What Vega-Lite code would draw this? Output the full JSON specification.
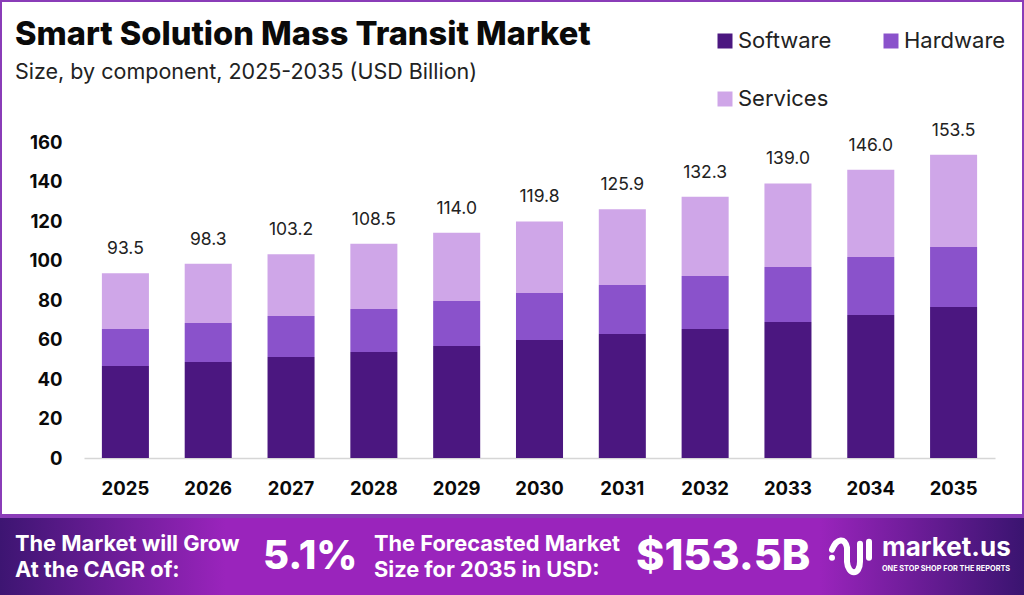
{
  "$schema": "https://vega.github.io/schema/vega-lite/v6.json",
  "padding": {"left": -2, "top": -2, "right": 0, "bottom": 0},
  "spacing": 0,
  "background": "white",
  "config": {
    "font": "Inter",
    "concat": {"spacing": 0}
  },
  "vconcat": [
    {
      "width": 1024,
      "height": 516,
      "view": {"fill": "white", "stroke": "#8a3cb8", "strokeWidth": 4},
      "title": {
        "text": "Smart Solution Mass Transit Market",
        "subtitle": "Size, by component, 2025-2035 (USD Billion)",
        "anchor": "start",
        "frame": "group",
        "dx": 15,
        "offset": -83,
        "font": "Inter",
        "fontSize": 32.6,
        "fontWeight": 800,
        "color": "#0a0a0a",
        "subtitleFont": "Inter",
        "subtitleFontSize": 21.5,
        "subtitleFontWeight": 400,
        "subtitleColor": "#222222",
        "subtitlePadding": 10
      },
      "layer": [
        {
          "data": {
            "values": [
              {"year": "2025", "component": "Software", "rank": 1, "value": 46.6},
              {"year": "2025", "component": "Hardware", "rank": 2, "value": 18.7},
              {"year": "2025", "component": "Services", "rank": 3, "value": 28.2},
              {"year": "2026", "component": "Software", "rank": 1, "value": 48.6},
              {"year": "2026", "component": "Hardware", "rank": 2, "value": 19.8},
              {"year": "2026", "component": "Services", "rank": 3, "value": 29.9},
              {"year": "2027", "component": "Software", "rank": 1, "value": 51.1},
              {"year": "2027", "component": "Hardware", "rank": 2, "value": 20.8},
              {"year": "2027", "component": "Services", "rank": 3, "value": 31.3},
              {"year": "2028", "component": "Software", "rank": 1, "value": 53.7},
              {"year": "2028", "component": "Hardware", "rank": 2, "value": 21.7},
              {"year": "2028", "component": "Services", "rank": 3, "value": 33.1},
              {"year": "2029", "component": "Software", "rank": 1, "value": 56.7},
              {"year": "2029", "component": "Hardware", "rank": 2, "value": 22.8},
              {"year": "2029", "component": "Services", "rank": 3, "value": 34.5},
              {"year": "2030", "component": "Software", "rank": 1, "value": 59.7},
              {"year": "2030", "component": "Hardware", "rank": 2, "value": 23.8},
              {"year": "2030", "component": "Services", "rank": 3, "value": 36.3},
              {"year": "2031", "component": "Software", "rank": 1, "value": 62.8},
              {"year": "2031", "component": "Hardware", "rank": 2, "value": 24.8},
              {"year": "2031", "component": "Services", "rank": 3, "value": 38.3},
              {"year": "2032", "component": "Software", "rank": 1, "value": 65.3},
              {"year": "2032", "component": "Hardware", "rank": 2, "value": 26.9},
              {"year": "2032", "component": "Services", "rank": 3, "value": 40.1},
              {"year": "2033", "component": "Software", "rank": 1, "value": 68.9},
              {"year": "2033", "component": "Hardware", "rank": 2, "value": 27.8},
              {"year": "2033", "component": "Services", "rank": 3, "value": 42.3},
              {"year": "2034", "component": "Software", "rank": 1, "value": 72.4},
              {"year": "2034", "component": "Hardware", "rank": 2, "value": 29.4},
              {"year": "2034", "component": "Services", "rank": 3, "value": 44.2},
              {"year": "2035", "component": "Software", "rank": 1, "value": 76.5},
              {"year": "2035", "component": "Hardware", "rank": 2, "value": 30.3},
              {"year": "2035", "component": "Services", "rank": 3, "value": 46.7}
            ]
          },
          "mark": {"type": "bar", "stroke": "#000000", "strokeOpacity": 0},
          "encoding": {
            "x": {
              "field": "year",
              "type": "ordinal",
              "title": null,
              "scale": {"range": [84, 995], "paddingInner": 0.432, "paddingOuter": 0.216},
              "axis": {
                "offset": -58,
                "labelAngle": 0,
                "labelFont": "Inter",
                "labelFontSize": 18.5,
                "labelFontWeight": 700,
                "labelColor": "#0a0a0a",
                "labelPadding": 21,
                "ticks": false,
                "domainColor": "#d6d6d6",
                "domainWidth": 1.5
              }
            },
            "y": {
              "field": "value",
              "type": "quantitative",
              "stack": "zero",
              "title": null,
              "scale": {"domain": [0, 160], "range": [458, 142]},
              "axis": {
                "offset": -62,
                "values": [0, 20, 40, 60, 80, 100, 120, 140, 160],
                "grid": false,
                "domain": false,
                "ticks": false,
                "labelPadding": 0,
                "labelFont": "Inter",
                "labelFontSize": 18.5,
                "labelFontWeight": 700,
                "labelColor": "#0a0a0a"
              }
            },
            "color": {
              "field": "component",
              "type": "nominal",
              "title": null,
              "scale": {
                "domain": ["Software", "Hardware", "Services"],
                "range": ["#4b1780", "#8a52cb", "#cfa6e8"]
              },
              "legend": {
                "orient": "none",
                "legendX": 714,
                "legendY": 30,
                "direction": "horizontal",
                "columns": 2,
                "columnPadding": 48,
                "rowPadding": 36,
                "symbolType": "square",
                "symbolSize": 225,
                "symbolStrokeWidth": 0,
                "labelFont": "Inter",
                "labelFontSize": 22,
                "labelColor": "#222222",
                "labelOffset": 2
              }
            },
            "order": {"field": "rank"}
          }
        },
        {
          "data": {
            "values": [
              {"year": "2025", "total": 93.5},
              {"year": "2026", "total": 98.3},
              {"year": "2027", "total": 103.2},
              {"year": "2028", "total": 108.5},
              {"year": "2029", "total": 114.0},
              {"year": "2030", "total": 119.8},
              {"year": "2031", "total": 125.9},
              {"year": "2032", "total": 132.3},
              {"year": "2033", "total": 139.0},
              {"year": "2034", "total": 146.0},
              {"year": "2035", "total": 153.5}
            ]
          },
          "mark": {
            "type": "text",
            "font": "Inter",
            "fontSize": 17.5,
            "fontWeight": 400,
            "color": "#222222",
            "baseline": "middle",
            "dy": -24
          },
          "encoding": {
            "x": {"field": "year", "type": "ordinal"},
            "y": {"field": "total", "type": "quantitative"},
            "text": {"field": "total", "type": "quantitative", "format": ".1f"}
          }
        }
      ]
    },
    {
      "width": 1024,
      "height": 79,
      "view": {
        "stroke": null,
        "fill": {
          "gradient": "linear",
          "x1": 0,
          "y1": 0,
          "x2": 1,
          "y2": 0,
          "stops": [
            {"offset": 0, "color": "#3d1572"},
            {"offset": 0.22, "color": "#9a24bc"},
            {"offset": 0.8, "color": "#9a24bc"},
            {"offset": 1, "color": "#3a1470"}
          ]
        }
      },
      "encoding": {
        "x": {
          "field": "column",
          "type": "quantitative",
          "axis": null,
          "scale": {"domain": [1, 2, 3, 4, 5, 6], "range": [15, 263, 374, 636, 851, 882]}
        },
        "y": {
          "field": "line",
          "type": "quantitative",
          "axis": null,
          "scale": {"domain": [1, 2], "range": [26, 52]}
        },
        "text": {"field": "label", "type": "nominal"}
      },
      "layer": [
        {
          "data": {
            "values": [
              {"column": 1, "line": 1, "label": "The Market will Grow"},
              {"column": 1, "line": 2, "label": "At the CAGR of:"},
              {"column": 3, "line": 1, "label": "The Forecasted Market"},
              {"column": 3, "line": 2, "label": "Size for 2035 in USD:"}
            ]
          },
          "mark": {"type": "text", "align": "left", "baseline": "middle", "font": "Inter", "fontSize": 21.8, "fontWeight": 700, "color": "white"}
        },
        {
          "data": {"values": [{"column": 2, "line": 1.5, "label": "5.1%"}]},
          "mark": {"type": "text", "align": "left", "baseline": "middle", "font": "Inter", "fontSize": 40, "fontWeight": 800, "color": "white"}
        },
        {
          "data": {"values": [{"column": 4, "line": 1.5, "label": "$153.5B"}]},
          "mark": {"type": "text", "align": "left", "baseline": "middle", "font": "Inter", "fontSize": 43, "fontWeight": 800, "color": "white"}
        },
        {
          "data": {"values": [{"column": 6, "line": 1.15, "label": "market.us"}]},
          "mark": {"type": "text", "align": "left", "baseline": "middle", "font": "Inter", "fontSize": 26, "fontWeight": 700, "color": "white"}
        },
        {
          "data": {"values": [{"column": 6, "line": 1.95, "label": "ONE STOP SHOP FOR THE REPORTS"}]},
          "mark": {"type": "text", "align": "left", "baseline": "middle", "font": "Inter", "fontSize": 7.3, "fontWeight": 700, "color": "white"}
        },
        {
          "data": {"values": [{"column": 5, "line": 1.45}]},
          "mark": {
            "type": "point",
            "shape": "M -0.95 0.1 L -0.95 0.1 M -0.95 -0.3 C -0.7 -0.9 -0.3 -0.9 -0.2 -0.4 L -0.2 0.3 C -0.15 1 0.45 1 0.45 0.3 L 0.45 -0.6 M 0.9 -0.7 L 0.9 0.1",
            "size": 1600,
            "filled": false,
            "stroke": "white",
            "strokeWidth": 6,
            "strokeCap": "round",
            "opacity": 1
          }
        }
      ]
    }
  ]
}
